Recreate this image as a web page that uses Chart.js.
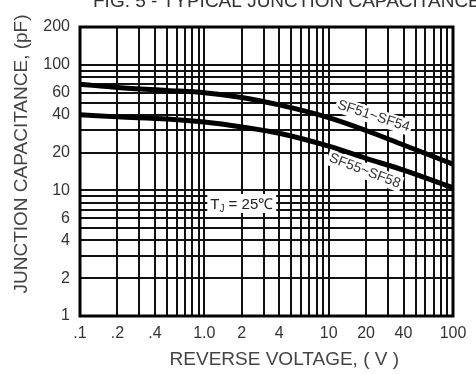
<!DOCTYPE html>
<html><head><meta charset="utf-8">
<script src="https://cdn.jsdelivr.net/npm/chart.js@4/dist/chart.umd.min.js"></script>
<style>html,body{margin:0;padding:0;background:#fff;overflow:hidden}</style>
</head><body>
<canvas id="c" width="476" height="374"></canvas>
<script>
// ---- data ----
const chartTitle = "FIG. 5 - TYPICAL JUNCTION CAPACITANCE";
const xTitle = "REVERSE VOLTAGE, ( V )";
const yTitle = "JUNCTION CAPACITANCE, (pF)";
const voltage = [0.1, 0.2, 0.5, 1, 2, 4, 10, 20, 40, 100];
const capSF51_54 = [70, 66, 62.5, 60, 55, 48, 38, 30, 23, 16.2];
const capSF55_58 = [40, 38.5, 37, 35, 32, 28.5, 22.5, 18, 14.5, 10.5];
const xGridValues = [0.1,0.2,0.3,0.4,0.5,0.6,0.7,0.8,0.9,1,2,3,4,5,6,7,8,9,10,20,30,40,50,60,70,80,90,100];
const yGridValues = [1,2,3,4,5,6,7,8,9,10,20,30,40,50,60,70,80,90,100,200];
const xTickLabels = {0.1: ".1", 0.2: ".2", 0.4: ".4", 1: "1.0", 2: "2", 4: "4", 10: "10", 20: "20", 40: "40", 100: "100"};
const yTickLabels = {1: "1", 2: "2", 4: "4", 6: "6", 10: "10", 20: "20", 40: "40", 60: "60", 100: "100", 200: "200"};
const seriesNames = ["SF51~SF54", "SF55~SF58"];
// annotation anchors in data coordinates
const labelSF51 = {x: 23, y: 39, text: "SF51~SF54", angle: 18};
const labelSF55 = {x: 19.5, y: 14.3, text: "SF55~SF58", angle: 21};
const labelTj = {x: 2, y: 7.8};
// axis title anchors (data coordinates along each axis)
const xTitleAt = 4.4;
const yTitleAt = 19.5;

const FONT = "'Liberation Sans', Arial, sans-serif";

const annot = {
  id: 'annot',
  afterDatasetsDraw(chart) {
    const {ctx, chartArea: a, scales: {x, y}} = chart;
    ctx.save();
    // frame
    ctx.strokeStyle = '#000';
    ctx.lineWidth = 3;
    ctx.strokeRect(a.left, a.top, a.right - a.left, a.bottom - a.top);
    // rotated series labels with white background
    ctx.font = "14px " + FONT;
    ctx.textAlign = 'center';
    ctx.textBaseline = 'middle';
    [labelSF51, labelSF55].forEach(l => {
      const px = x.getPixelForValue(l.x), py = y.getPixelForValue(l.y);
      ctx.save();
      ctx.translate(px, py);
      ctx.rotate(l.angle * Math.PI / 180);
      const w = ctx.measureText(l.text).width;
      ctx.fillStyle = '#fff';
      ctx.fillRect(-w / 2 - 2, -8, w + 4, 16);
      ctx.fillStyle = '#333';
      ctx.fillText(l.text, 0, 0);
      ctx.restore();
    });
    // axis titles
    ctx.font = "19px " + FONT;
    ctx.fillStyle = '#444';
    ctx.textAlign = 'center';
    ctx.textBaseline = 'middle';
    ctx.fillText(xTitle, x.getPixelForValue(xTitleAt), 360);
    ctx.save();
    ctx.translate(22, y.getPixelForValue(yTitleAt));
    ctx.rotate(-Math.PI / 2);
    ctx.fillText(yTitle, 0, 0);
    ctx.restore();
    // Tj label
    const tx = x.getPixelForValue(labelTj.x), ty = y.getPixelForValue(labelTj.y);
    ctx.textAlign = 'left';
    ctx.textBaseline = 'alphabetic';
    const f1 = "15px " + FONT, f2 = "10px " + FONT;
    ctx.font = f1; const wT = ctx.measureText("T").width;
    ctx.font = f2; const wJ = ctx.measureText("J").width;
    ctx.font = f1; const wR = ctx.measureText(" = 25\u2103").width;
    const tw = wT + wJ + wR;
    let sx = tx - tw / 2;
    ctx.fillStyle = '#fff';
    ctx.fillRect(sx - 3, ty - 10, tw + 6, 19);
    ctx.fillStyle = '#222';
    ctx.font = f1; ctx.fillText("T", sx, ty + 5);
    ctx.font = f2; ctx.fillText("J", sx + wT, ty + 8);
    ctx.font = f1; ctx.fillText(" = 25\u2103", sx + wT + wJ, ty + 5);
    // cut-off title at top
    ctx.font = "19px " + FONT;
    ctx.fillStyle = '#333';
    ctx.fillText(chartTitle, 93, 7);
    ctx.restore();
  }
};

new Chart(document.getElementById('c'), {
  type: 'line',
  data: {
    datasets: [
      {label: seriesNames[0], data: voltage.map((v, i) => ({x: v, y: capSF51_54[i]}))},
      {label: seriesNames[1], data: voltage.map((v, i) => ({x: v, y: capSF55_58[i]}))}
    ].map(d => Object.assign(d, {borderColor: '#000', borderWidth: 5, pointRadius: 0, cubicInterpolationMode: 'monotone', fill: false}))
  },
  options: {
    responsive: false,
    animation: false,
    layout: {padding: {top: 27, right: 23, left: 0, bottom: 0}},
    plugins: {legend: {display: false}, tooltip: {enabled: false}},
    scales: {
      x: {
        type: 'logarithmic', min: 0.1, max: 100,
        afterBuildTicks(s) { s.ticks = xGridValues.map(v => ({value: v})); },
        afterFit(s) { s.height = 58; },
        grid: {color: '#111', lineWidth: 2, drawTicks: false},
        border: {display: false},
        ticks: {autoSkip: false, maxRotation: 0, padding: 8, color: '#333', font: {size: 16, family: FONT},
          callback: v => xTickLabels[v] !== undefined ? xTickLabels[v] : ''},
        title: {display: false}
      },
      y: {
        type: 'logarithmic', min: 1, max: 200,
        afterBuildTicks(s) { s.ticks = yGridValues.map(v => ({value: v})); },
        afterFit(s) { s.width = 80; },
        grid: {color: '#111', lineWidth: 2, drawTicks: false},
        border: {display: false},
        ticks: {autoSkip: false, padding: 10, color: '#333', font: {size: 16, family: FONT},
          callback: v => yTickLabels[v] !== undefined ? yTickLabels[v] : ''},
        title: {display: false}
      }
    }
  },
  plugins: [annot]
});
</script>
</body></html>
